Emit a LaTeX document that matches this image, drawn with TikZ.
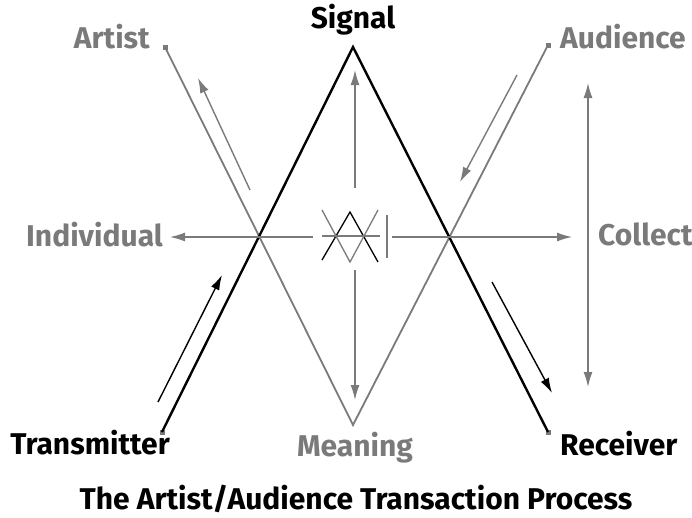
\documentclass[tikz,border=0pt]{standalone}
\usepackage{fontspec}
\setmainfont{Fira Sans}
\usetikzlibrary{arrows.meta,positioning}
\definecolor{mgray}{HTML}{7A7A7A}

\begin{document}
\begin{tikzpicture}[x=1pt,y=-1pt,
  blk/.style={line width=2.4pt, black},
  gry/.style={line width=1.8pt, mgray},
  thin/.style={line width=1.4pt},
  arr/.style={-{Latex[length=15pt,width=9pt]}},
  darr/.style={{Latex[length=15pt,width=9pt]}-{Latex[length=15pt,width=9pt]}},
  tip/.style={fill=mgray, inner sep=0pt, minimum size=5pt},
  lbl/.style={font=\fontsize{30}{33}\selectfont\bfseries, inner sep=0pt}
]
\useasboundingbox (0,0) rectangle (692,517);
\clip (0,0) rectangle (692,517);

% end points of the two big lines
\node[tip] (art) at (165,47) {};
\node[tip] (aud) at (548,45) {};
\node[tip] (tra) at (162,432) {};
\node[tip] (rec) at (548,432) {};
\coordinate (sig) at (353,47);
\coordinate (mea) at (353,425);

\draw[gry, line join=miter] (art.center) -- (mea) -- (aud.center);
\draw[blk, line join=miter] (tra.center) -- (sig) -- (rec.center);

% labels
\node[lbl, mgray, anchor=base east] (artlbl) at (150,48) {Artist};
\node[lbl, mgray, anchor=base west] (audlbl) at (560,48) {Audience};
\node[lbl, anchor=base] (siglbl) at (353,28) {Signal};
\node[lbl, mgray, anchor=base east] (indlbl) at (163,246) {Individual};
\node[lbl, mgray, anchor=base west] (collbl) at (598,245) {Collective};
\node[lbl, anchor=base east] (tralbl) at (170,454) {Transmitter};
\node[lbl, mgray, anchor=base] (mealbl) at (355,456) {Meaning};
\node[lbl, anchor=base west] (reclbl) at (560,455) {Receiver};
\node[lbl, anchor=base] (title) at (356,509) {The Artist/Audience Transaction Process};

% arrows along the lines
\coordinate (artA) at (250,190);  \coordinate (artB) at (198,78);
\coordinate (audA) at (517,75);   \coordinate (audB) at (460,182);
\coordinate (traA) at (158,402);  \coordinate (traB) at (222,275);
\coordinate (recA) at (492,282);  \coordinate (recB) at (552,393);
\draw[gry, thin, arr] (artA) -- (artB);
\draw[gry, thin, arr] (audA) -- (audB);
\draw[black, thin, arr] (traA) -- (traB);
\draw[black, thin, arr] (recA) -- (recB);

% axes from the centre
\coordinate (hl) at (313,237);  \coordinate (hlB) at (170,237);
\coordinate (hr) at (392,237);  \coordinate (hrB) at (572,237);
\coordinate (vu) at (355,188);  \coordinate (vuB) at (355,70);
\coordinate (vd) at (355,270);  \coordinate (vdB) at (355,400);
\coordinate (cu) at (588,83);   \coordinate (cd) at (588,387);
\draw[gry, thin, arr] (hl) -- (hlB);
\draw[gry, thin, arr] (hr) -- (hrB);
\draw[gry, thin, arr] (vu) -- (vuB);
\draw[gry, thin, arr] (vd) -- (vdB);
\draw[gry, thin, darr] (cu) -- (cd);

% small sign in the middle
\draw[black, line width=1.3pt] (322,260) -- (350,212) -- (378,262);
\draw[mgray, line width=1.3pt] (322,210) -- (350,262) -- (378,210);
\draw[mgray, line width=1.3pt] (322,236) -- (380,236);
\draw[mgray, line width=1.3pt] (387,215) -- (387,258);

\end{tikzpicture}
\end{document}
